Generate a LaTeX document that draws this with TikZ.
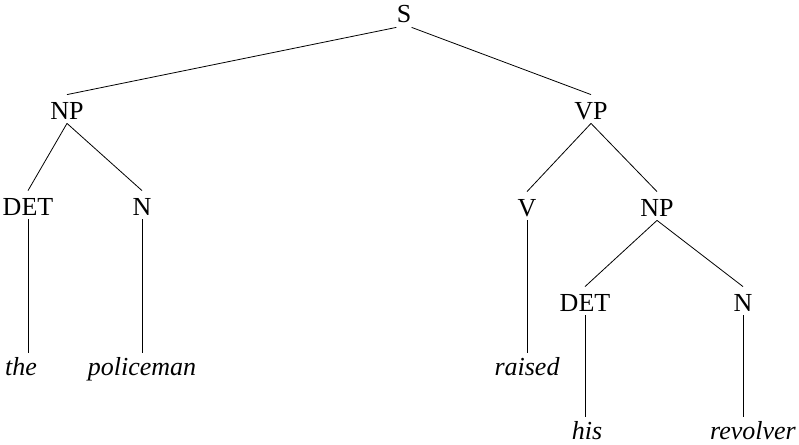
\documentclass[tikz,border=0pt]{standalone}
\usepackage{fontspec}
\setmainfont{Liberation Serif}
\begin{document}
\begin{tikzpicture}[x=1pt, y=-1pt, line width=0.8pt,
    cat/.style={font=\fontsize{26}{31}\selectfont, anchor=base,
      inner sep=0pt, text height=24pt, text depth=4pt},
    word/.style={font=\fontsize{26}{31}\selectfont\itshape, anchor=base,
      inner sep=0pt, text height=22pt, text depth=0pt}]
  \useasboundingbox (0,0) rectangle (799,444);
  % category labels, set on their baselines
  \node[cat] (s)    at (404,23)  {S};
  \node[cat] (np)   at (67,119)  {NP};
  \node[cat] (vp)   at (591,119) {VP};
  \node[cat] (det)  at (28,215)  {DET};
  \node[cat] (n)    at (142,215) {N};
  \node[cat] (v)    at (527,216) {V};
  \node[cat] (npo)  at (657,216) {NP};
  \node[cat] (deto) at (585,311) {DET};
  \node[cat] (no)   at (743,311) {N};
  % the words
  \node[word] (the)       at (21,375)  {the};
  \node[word] (policeman) at (142,375) {policeman};
  \node[word] (raised)    at (527,375) {raised};
  \node[word] (his)       at (587,439) {his};
  \node[word] (revolver)  at (753,439) {revolver};
  % branches
  \draw (s.south west) -- (np.north);
  \draw (s.south east) -- (vp.north);
  \draw (np.south) -- (det.north);
  \draw (np.south) -- (n.north);
  \draw (vp.south) -- (v.north);
  \draw (vp.south) -- (npo.north);
  \draw (npo.south) -- (deto.north);
  \draw (npo.south) -- (no.north);
  % lexical lines
  \draw (det.south)  -- (det.south |- the.north);
  \draw (n.south)    -- (n.south |- policeman.north);
  \draw (v.south)    -- (v.south |- raised.north);
  \draw (deto.south) -- (deto.south |- his.north);
  \draw (no.south)   -- (no.south |- revolver.north);
\end{tikzpicture}
\end{document}
